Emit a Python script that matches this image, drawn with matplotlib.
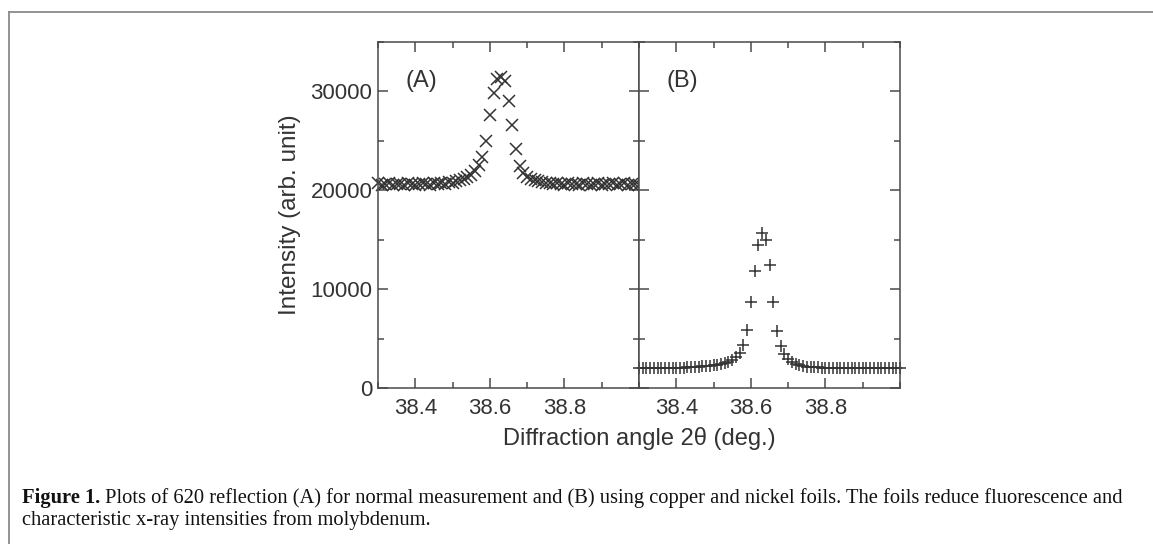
import matplotlib
matplotlib.use('Agg')
import matplotlib.pyplot as plt
from matplotlib.lines import Line2D
from matplotlib.ticker import MultipleLocator

# ---------- data ----------
angle = [38.30, 38.31, 38.32, 38.33, 38.34, 38.35, 38.36, 38.37, 38.38, 38.39,
         38.40, 38.41, 38.42, 38.43, 38.44, 38.45, 38.46, 38.47, 38.48, 38.49,
         38.50, 38.51, 38.52, 38.53, 38.54, 38.55, 38.56, 38.57, 38.58, 38.59,
         38.60, 38.61, 38.62, 38.63, 38.64, 38.65, 38.66, 38.67, 38.68, 38.69,
         38.70, 38.71, 38.72, 38.73, 38.74, 38.75, 38.76, 38.77, 38.78, 38.79,
         38.80, 38.81, 38.82, 38.83, 38.84, 38.85, 38.86, 38.87, 38.88, 38.89,
         38.90, 38.91, 38.92, 38.93, 38.94, 38.95, 38.96, 38.97, 38.98, 38.99,
         39.00]

# (A) normal measurement
intensity_a = [20700, 20500, 20600, 20700, 20500, 20600, 20600, 20500, 20700, 20600,
               20500, 20600, 20700, 20600, 20500, 20700, 20600, 20700, 20600, 20800,
               20700, 20900, 21000, 21100, 21300, 21500, 21900, 22500, 23300, 25000,
               27600, 29800, 31200, 31400, 31000, 29000, 26600, 24100, 22400, 21700,
               21300, 21100, 21000, 20900, 20800, 20700, 20700, 20600, 20700, 20600,
               20500, 20700, 20600, 20600, 20500, 20700, 20600, 20500, 20600, 20700,
               20500, 20600, 20600, 20700, 20500, 20600, 20700, 20500, 20600, 20600,
               20500]

# (B) with copper and nickel foils
intensity_b = [2000, 2000, 2000, 2000, 2000, 2000, 2000, 2000, 2000, 2000,
               2050, 2050, 2050, 2100, 2100, 2100, 2150, 2200, 2200, 2250,
               2300, 2350, 2400, 2500, 2600, 2800, 3100, 3500, 4300, 5900,
               8700, 11800, 14400, 15700, 14900, 12400, 8700, 5800, 4200, 3400,
               2900, 2600, 2400, 2300, 2200, 2150, 2100, 2100, 2100, 2050,
               2050, 2050, 2000, 2000, 2000, 2000, 2000, 2000, 2000, 2000,
               2000, 2000, 2000, 2000, 2000, 2000, 2000, 2000, 2000, 2000,
               2000]

y_ticks = [0, 10000, 20000, 30000]
x_ticks = [38.4, 38.6, 38.8]
panel_labels = ['(A)', '(B)']

caption_bold = 'Figure 1.'
caption_line1 = (' Plots of 620 reflection (A) for normal measurement and (B) using copper '
                 'and nickel foils. The foils reduce fluorescence and')
caption_line2 = 'characteristic x-ray intensities from molybdenum.'

# ---------- style ----------
INK = '#333333'
SPINE = '#4a4a4a'
plt.rcParams['font.family'] = ['Liberation Sans', 'DejaVu Sans']

W, H = 1153, 544
fig = plt.figure(figsize=(W / 100, H / 100), dpi=100)

def fx(px):
    return px / W

def fy(py):
    return 1 - py / H

left, right_a, right_b, top, bottom = 378, 639, 900, 41.5, 388
ax_a = fig.add_axes([fx(left), fy(bottom), fx(right_a - left), fy(top) - fy(bottom)])
ax_b = fig.add_axes([fx(right_a), fy(bottom), fx(right_b - right_a), fy(top) - fy(bottom)])

ax_a.plot(angle, intensity_a, linestyle='none', marker='x', ms=8.5, mew=1.1,
          color=INK, clip_on=False)
ax_b.plot(angle, intensity_b, linestyle='none', marker='+', ms=9, mew=1.1,
          color=INK, clip_on=False)

for ax, lab in zip([ax_a, ax_b], panel_labels):
    ax.set_xlim(38.3, 39.0)
    ax.set_ylim(0, 35000)
    ax.set_xticks(x_ticks)
    ax.xaxis.set_minor_locator(MultipleLocator(0.1))
    ax.set_yticks(y_ticks)
    ax.yaxis.set_minor_locator(MultipleLocator(5000))
    ax.tick_params(which='both', direction='in', top=True, right=True,
                   color=SPINE, width=1.1, labelcolor=INK, labelsize=16)
    ax.tick_params(which='major', length=7.5)
    ax.tick_params(which='minor', length=4)
    ax.tick_params(axis='x', pad=7)
    ax.tick_params(axis='y', pad=4)
    for s in ax.spines.values():
        s.set_color(SPINE)
        s.set_linewidth(1.1)
    ax.text(0.105, 0.885, lab, transform=ax.transAxes, fontsize=17, color=INK,
            ha='left', va='center')

ax_b.tick_params(axis='y', labelleft=False)

ax_a.set_ylabel('Intensity (arb. unit)', fontsize=17.5, color=INK, labelpad=7)
fig.text(fx(639), fy(438), 'Diffraction angle 2\u03b8 (deg.)', fontsize=17,
         color=INK, ha='center', va='center')

# caption box edge (left and top)
frame_col = '#8a8a8a'
fig.add_artist(Line2D([fx(9), fx(9)], [0, fy(12)], color=frame_col, lw=1.3))
fig.add_artist(Line2D([fx(9), 1], [fy(12), fy(12)], color=frame_col, lw=1.3))

# caption
cap_size = 14.8
cap = fig.text(fx(22), fy(503), caption_bold, fontsize=cap_size, fontweight='bold',
               family=['Liberation Serif'], color='#111111', ha='left', va='baseline')
fig.canvas.draw()
bb = cap.get_window_extent()
fig.text(bb.x1 / W, fy(503), caption_line1, fontsize=cap_size, family=['Liberation Serif'],
         color='#111111', ha='left', va='baseline')
fig.text(fx(22), fy(525), caption_line2, fontsize=cap_size, family=['Liberation Serif'],
         color='#111111', ha='left', va='baseline')

fig.savefig('out.png', dpi=100)
